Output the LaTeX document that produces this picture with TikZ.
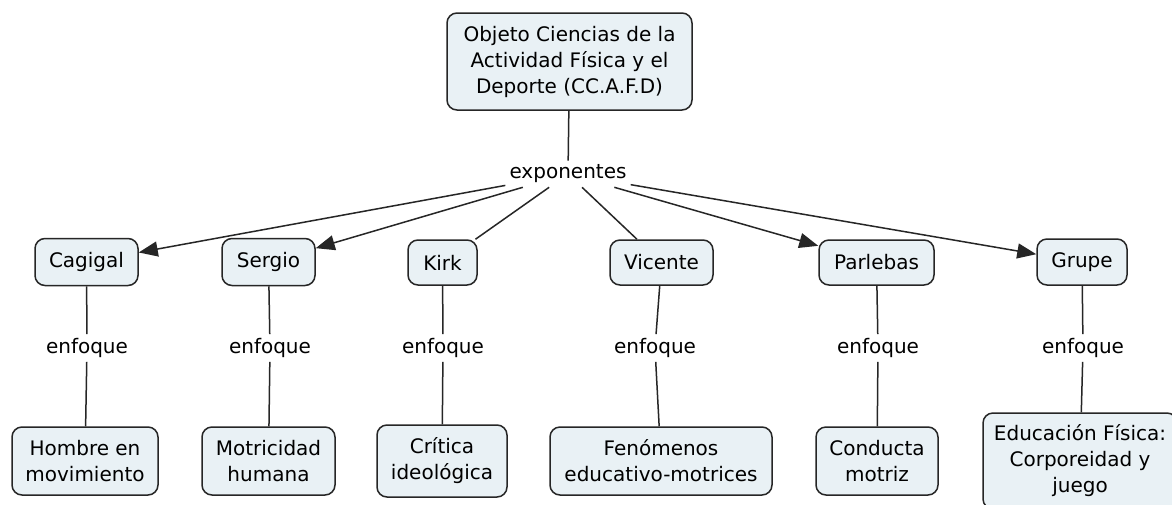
\documentclass[tikz,border=0pt]{standalone}
\usepackage{fontspec}
\setmainfont{DejaVu Sans}
\usetikzlibrary{arrows.meta}
\definecolor{boxfill}{HTML}{E9F1F5}
\definecolor{boxline}{HTML}{262626}
\begin{document}
\begin{tikzpicture}[x=1pt,y=-1pt,
  concept/.style={draw=boxline,fill=boxfill,line width=1.5pt,rounded corners=10pt,
    align=center,inner sep=0pt,font=\fontsize{20}{26}\selectfont,text=black},
  linklabel/.style={inner sep=4pt,font=\fontsize{20}{26}\selectfont,text=black},
  conn/.style={draw=boxline,line width=1.5pt},
  arr/.style={conn,-{Triangle[length=19pt,width=15pt]}}]
\clip (0,0) rectangle (1172,504);
\fill[white] (0,0) rectangle (1172,504);
% top
\node[concept,minimum width=245pt,minimum height=97pt] (top) at (569.5,61.5)
  {Objeto Ciencias de la\\Actividad Física y el\\Deporte (CC.A.F.D)};
\node[linklabel] (exp) at (568,174) {exponentes};
% second row
\node[concept,minimum width=103pt,minimum height=47pt] (cag) at (86.5,262) {Cagigal};
\node[concept,minimum width=93pt,minimum height=47pt] (ser) at (268.5,262) {Sergio};
\node[concept,minimum width=69pt,minimum height=45pt] (kir) at (442.5,262.5) {Kirk};
\node[concept,minimum width=103pt,minimum height=45pt] (vic) at (661.5,262.5) {Vicente};
\node[concept,minimum width=115pt,minimum height=45pt] (par) at (876.5,262.5) {Parlebas};
\node[concept,minimum width=90pt,minimum height=46pt] (gru) at (1082,262) {Grupe};
% enfoque labels
\node[linklabel] (e1) at (87,348) {enfoque};
\node[linklabel] (e2) at (270,348) {enfoque};
\node[linklabel] (e3) at (443,348) {enfoque};
\node[linklabel] (e4) at (655,348) {enfoque};
\node[linklabel] (e5) at (878,348) {enfoque};
\node[linklabel] (e6) at (1083,348) {enfoque};
% bottom row
\node[concept,minimum width=146pt,minimum height=68pt] (hom) at (85,461) {Hombre en\\movimiento};
\node[concept,minimum width=133pt,minimum height=68pt] (mot) at (268.5,461) {Motricidad\\humana};
\node[concept,minimum width=130pt,minimum height=72pt] (cri) at (442,461) {Crítica\\ideológica};
\node[concept,minimum width=222pt,minimum height=68pt] (fen) at (661,461) {Fenómenos\\educativo-motrices};
\node[concept,minimum width=122pt,minimum height=68pt] (con) at (877,461) {Conducta\\motriz};
\node[concept,minimum width=194pt,minimum height=96pt] (edu) at (1080,461)
  {Educación Física:\\Corporeidad y\\juego};
% connectors
\draw[conn] (top) -- (exp);
\draw[arr] (exp) -- (cag);
\draw[arr] (exp) -- (ser);
\draw[conn] (exp) -- (kir);
\draw[conn] (exp) -- (vic);
\draw[arr] (exp) -- (par);
\draw[arr] (exp) -- (gru);
\draw[conn] (cag) -- (e1); \draw[conn] (e1) -- (hom);
\draw[conn] (ser) -- (e2); \draw[conn] (e2) -- (mot);
\draw[conn] (kir) -- (e3); \draw[conn] (e3) -- (cri);
\draw[conn] (vic) -- (e4); \draw[conn] (e4) -- (fen);
\draw[conn] (par) -- (e5); \draw[conn] (e5) -- (con);
\draw[conn] (gru) -- (e6); \draw[conn] (e6) -- (edu);
\end{tikzpicture}
\end{document}
